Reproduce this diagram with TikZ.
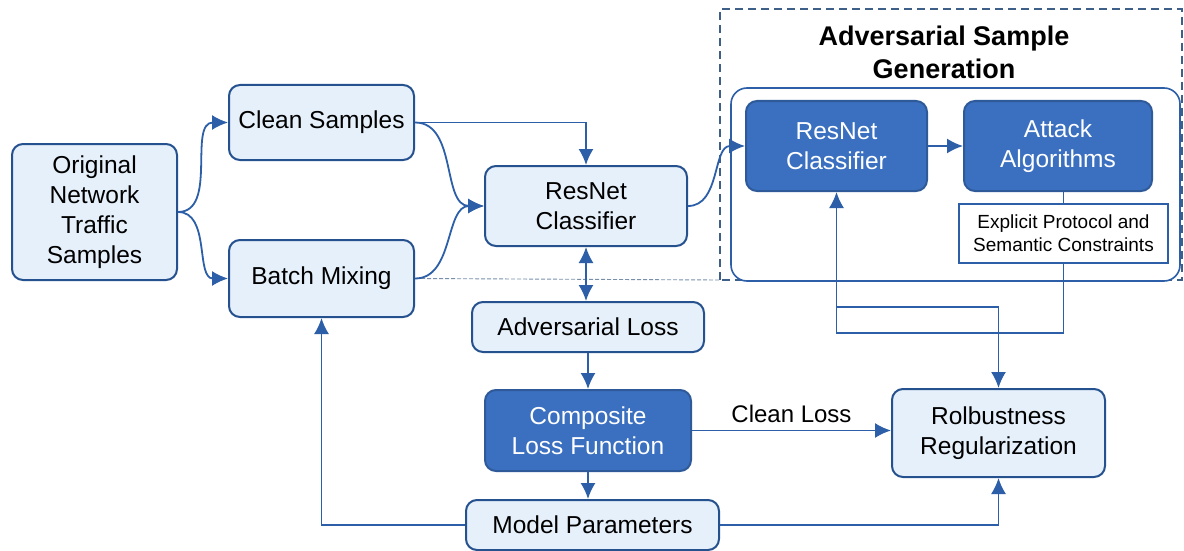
\documentclass[tikz,border=0pt]{standalone}
\usepackage{fontspec}
\setmainfont{Liberation Sans}
\usetikzlibrary{arrows.meta}

\definecolor{lineblue}{HTML}{2C5FA8}
\definecolor{lightfill}{HTML}{E6F0FA}
\definecolor{darkfill}{HTML}{3B70C0}
\definecolor{dashgray}{HTML}{3E5F88}

\tikzset{
	box/.style={draw=lineblue!85!black, line width=2pt, rounded corners=11pt, fill=lightfill, align=center, inner sep=0pt, font=\fontsize{24.5}{30}\selectfont},
	darkbox/.style={box, fill=darkfill, draw=darkfill!80!black, text=white},
	arr/.style={-{Latex[length=16pt,width=15pt]}, draw=lineblue, line width=1.8pt},
	plain/.style={draw=lineblue, line width=1.8pt},
}

\begin{document}
\begin{tikzpicture}[x=1pt,y=-1pt]
					%\draw[help lines] (0,0) grid (1184,551);
					\useasboundingbox[fill=white] (0,0) rectangle (1184,551);
					
					%DASHED GROUP
					\coordinate (gsw) at (720,280);
					\draw[dashgray, line width=1.6pt, dash pattern=on 8pt off 5pt] (gsw) rectangle (1182,9);
					\draw[lineblue, line width=1.6pt, rounded corners=16pt, fill=white] (731,88) rectangle (1180,281);
					\node[font=\bfseries\fontsize{27}{33}\selectfont, align=center] (gentitle) at (944,52) {Adversarial Sample\\Generation};
					
					%NODES
					\node[box, minimum width=165pt, minimum height=136pt] (orig) at (94.5,212) {Original\\Network\\Traffic\\Samples};
					\node[box, minimum width=185pt, minimum height=75pt] (clean) at (321.5,122.5) {Clean Samples};
					\node[box, minimum width=185pt, minimum height=77pt] (mix) at (321.5,278.5) {Batch Mixing};
					\node[box, minimum width=202pt, minimum height=80pt] (res) at (586,206) {ResNet\\Classifier};
					\node[box, minimum width=232pt, minimum height=50pt] (advloss) at (588,327) {Adversarial Loss};
					\node[darkbox, minimum width=206pt, minimum height=81pt] (comp) at (588,430.5) {Composite\\Loss Function};
					\node[box, minimum width=253pt, minimum height=50pt] (model) at (592.5,525) {Model Parameters};
					\node[box, minimum width=213pt, minimum height=88pt] (robust) at (998.5,433) {Rolbustness\\Regularization};
					\node[darkbox, minimum width=181pt, minimum height=90pt] (resd) at (836.5,146) {ResNet\\Classifier};
					\node[darkbox, minimum width=188pt, minimum height=90pt] (attack) at (1058,146) {Attack\\Algorithms};
					\node[draw=lineblue, line width=1.3pt, fill=white, align=center, minimum width=209pt, minimum height=59pt, inner sep=0pt, font=\fontsize{19}{23}\selectfont] (cons) at (1063.5,233.5) {Explicit Protocol and\\Semantic Constraints};
					
					%ARROWS
					\draw[dashgray!70, line width=0.9pt, dash pattern=on 4pt off 2pt] (mix.east) -- (gsw);
					\draw[arr] (orig.east) to[out=0,in=180] (clean.west);
					\draw[arr] (orig.east) to[out=0,in=180] (mix.west);
					\draw[arr] (clean.east) -| (res.north);
					\draw[arr] (clean.east) to[out=0,in=180] (res.west);
					\draw[arr] (mix.east) to[out=0,in=180] (res.west);
					\draw[arr] (res.east) to[out=0,in=180] (resd.west);
					\draw[arr] (resd.east) -- (attack.west);
					\draw[plain] (cons.north |- attack.south) -- (cons.north);
					\draw[arr, {Latex[length=16pt,width=15pt]}-{Latex[length=16pt,width=15pt]}] (res.south) -- (advloss.north -| res.south);
					\draw[arr] (advloss.south) -- (comp.north);
					\draw[arr] (comp.south) -- (comp.south |- model.north);
					\draw[arr] (model.west) -| (mix.south);
					\draw[arr] (model.east) -| (robust.south);
					\draw[arr] (comp.east) -- (comp.east -| robust.west) node[midway, above=4pt, font=\fontsize{24}{30}\selectfont]{Clean Loss};
					\draw[arr] (cons.south) -- ++(0,69) -| (resd.south);
					\coordinate (split) at (836,307);
					\draw[arr] (split) -| (robust.north);
					
				  \end{tikzpicture}
\end{document}
